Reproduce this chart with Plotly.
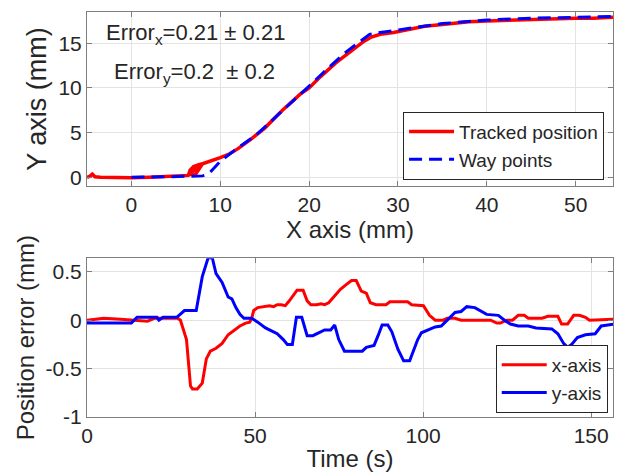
import plotly.graph_objects as go

# ---- Top panel: trajectory ----
tracked_x = [-5, -4.7, -4.4, -4.1, -3.5, -2, 0, 2, 4, 5.5, 6.4, 6.6, 7.0, 7.6, 8.0, 7.4, 6.8, 6.6, 7.2,
             8.0, 9.0, 10.0, 11.0, 12.0, 13.5, 15, 17, 19, 20, 21, 23, 25, 26, 27, 28, 29.5, 31, 33, 35,
             38, 40, 43, 46, 50, 52, 54.2]
tracked_y = [0.0, 0.1, 0.35, 0.05, 0.0, -0.05, -0.05, 0.0, 0.05, 0.1, 0.2, 0.8, 1.2, 1.4, 1.5, 1.0, 0.6,
             0.3, 0.3, 1.5, 1.8, 2.2, 2.6, 3.2, 4.3, 5.5, 7.5, 9.3, 10.0, 11.0, 12.8, 14.4, 15.1, 15.7,
             16.0, 16.2, 16.5, 16.9, 17.1, 17.4, 17.5, 17.6, 17.7, 17.8, 17.8, 17.9]

way_x = [0, 2, 4, 6, 8, 8.5, 9, 10, 11, 12, 14, 16, 18, 20, 22, 24, 26, 26.8, 28, 30, 32, 35, 40, 45,
         50, 54.2]
way_y = [0, 0, 0.05, 0.1, 0.15, 0.3, 0.7, 1.8, 2.6, 3.3, 4.7, 6.5, 8.4, 10.2, 12.1, 13.9, 15.4, 16.0,
         16.2, 16.5, 16.8, 17.2, 17.6, 17.8, 17.9, 18.0]

# ---- Bottom panel: position error over time ----
ex_t = [0, 5, 10, 13, 18, 20, 27, 27.8, 29.6, 30.8, 31.4, 32.8, 34.3, 35.5, 36.7, 38.4, 40.2, 42, 43.7,
        45.5, 47.2, 48.4, 49, 49.6, 50.8, 52.5, 54.3, 55.5, 56.6, 57.8, 59, 60.2, 61.3, 62.5, 64.3, 65.5,
        66.6, 68.4, 69.6, 70.7, 71.9, 73.7, 75.4, 77.2, 78.7, 80.1, 81.6, 83.1, 84.3, 86, 89, 90.1, 95.4,
        96.6, 100.1, 101.9, 103.6, 106, 107.2, 109.5, 111.3, 120.1, 121.9, 123, 124.8, 126.6, 128.3,
        130.1, 131.3, 135.4, 137.1, 140.1, 141.2, 143, 144.8, 146.5, 148.3, 149.5, 157]
ex_v = [0, 0.02, 0.01, 0, -0.01, 0.02, 0.02, 0, -0.2, -0.68, -0.71, -0.71, -0.65, -0.4, -0.32, -0.29,
        -0.24, -0.15, -0.11, -0.06, -0.03, -0.02, 0.02, 0.1, 0.13, 0.14, 0.15, 0.14, 0.16, 0.16, 0.15,
        0.2, 0.25, 0.31, 0.31, 0.2, 0.16, 0.16, 0.17, 0.16, 0.18, 0.25, 0.32, 0.37, 0.41, 0.41, 0.3,
        0.28, 0.18, 0.16, 0.16, 0.19, 0.19, 0.16, 0.15, 0.05, 0, 0, 0.02, 0.02, 0, 0, -0.03, -0.03, 0,
        0, 0.05, 0.05, 0.02, 0.02, 0.04, 0.04, -0.04, -0.04, 0.05, 0.05, 0.03, 0, 0.01]

ey_t = [0, 10.8, 13.2, 14.9, 19, 20.8, 21.4, 22.6, 26.7, 29, 32.5, 34.3, 36.1, 37.3, 38.4, 40.2, 42,
        43.1, 44.3, 45.5, 46.7, 49, 50.8, 53.1, 55.5, 56.6, 58.4, 59.6, 61.1, 62.3, 63.9, 65.5, 67.2,
        69.6, 70.7, 72.5, 73.7, 74.9, 76.6, 78.4, 81.9, 83.1, 85.4, 86.6, 87.8, 89.5, 90.7, 92.5, 94.2,
        96, 98.4, 99.5, 101.3, 103.6, 105.4, 107.8, 109.5, 111.3, 113, 115.4, 117.2, 118.9, 122.4,
        124.2, 126, 128.3, 131.3, 133.6, 138.3, 140.1, 141.8, 143, 144.2, 145.9, 148.3, 151.2, 153,
        154.8, 157]
ey_v = [-0.03, -0.03, -0.03, 0.03, 0.03, 0.03, 0, 0.03, 0.03, 0.1, 0.1, 0.45, 0.65, 0.64, 0.48, 0.39,
        0.24, 0.22, 0.13, 0.06, 0.02, 0.02, -0.02, -0.08, -0.12, -0.14, -0.2, -0.25, -0.25, 0.03, 0.03,
        -0.16, -0.16, -0.12, -0.1, -0.1, -0.05, -0.2, -0.32, -0.32, -0.32, -0.28, -0.26, -0.16, -0.05,
        -0.05, -0.12, -0.3, -0.42, -0.42, -0.2, -0.13, -0.1, -0.07, -0.06, 0.02, 0.08, 0.09, 0.14, 0.13,
        0.09, 0.06, 0.05, 0, -0.04, -0.06, -0.06, -0.08, -0.09, -0.14, -0.24, -0.28, -0.25, -0.18,
        -0.15, -0.14, -0.06, -0.05, -0.04]

RED = "#ff0000"
BLUE = "#0000ff"
FONT = "Liberation Sans, Arial, sans-serif"
TXT = "#262626"

fig = go.Figure()
fig.add_trace(go.Scatter(x=tracked_x, y=tracked_y, mode="lines", name="Tracked position",
                         line=dict(color=RED, width=3.5), xaxis="x", yaxis="y", legend="legend"))
fig.add_trace(go.Scatter(x=way_x, y=way_y, mode="lines", name="Way points",
                         line=dict(color=BLUE, width=3, dash="13px,7px"), xaxis="x", yaxis="y",
                         legend="legend"))
fig.add_trace(go.Scatter(x=ex_t, y=ex_v, mode="lines", name="x-axis",
                         line=dict(color=RED, width=3), xaxis="x2", yaxis="y2", legend="legend2"))
fig.add_trace(go.Scatter(x=ey_t, y=ey_v, mode="lines", name="y-axis",
                         line=dict(color=BLUE, width=3), xaxis="x2", yaxis="y2", legend="legend2"))

axis_common = dict(showline=True, linecolor="#7f7f7f", linewidth=1, mirror="ticks",
                   ticks="inside", ticklen=5, tickcolor="#7f7f7f", showgrid=True,
                   gridcolor="#e3e3e3", gridwidth=1, zeroline=False, automargin=False,
                   tickfont=dict(size=21, color=TXT, family=FONT))

# The page body adds an 8px offset, so the figure is sized 614x466 to fit the 622x474 window.
fig.update_layout(
    width=614, height=466,
    margin=dict(l=79, r=9, t=4, b=57),
    paper_bgcolor="white", plot_bgcolor="white",
    font=dict(family=FONT, color=TXT),
    xaxis=dict(domain=[0, 1], range=[-5, 54.2], tickvals=[0, 10, 20, 30, 40, 50], anchor="y",
               title=dict(text="X axis (mm)", font=dict(size=24), standoff=2), **axis_common),
    yaxis=dict(domain=[0.570, 1], range=[-1, 18.5], tickvals=[0, 5, 10, 15], anchor="x",
               title=dict(text="Y axis (mm)", font=dict(size=27), standoff=3), **axis_common),
    xaxis2=dict(domain=[0, 1], range=[0, 156.5], tickvals=[0, 50, 100, 150], anchor="y2",
                title=dict(text="Time (s)", font=dict(size=24), standoff=3), **axis_common),
    yaxis2=dict(domain=[0, 0.392], range=[-1, 0.64], tickvals=[-1, -0.5, 0, 0.5],
                ticktext=["-1", "-0.5", "0", "0.5"], anchor="x2",
                title=dict(text="Position error (mm)", font=dict(size=24), standoff=4),
                **axis_common),
    legend=dict(x=0.983, y=0.586, xanchor="right", yanchor="bottom", bgcolor="white",
                bordercolor="#262626", borderwidth=1, font=dict(size=19, color=TXT),
                tracegroupgap=0, itemwidth=45),
    legend2=dict(x=0.990, y=0.010, xanchor="right", yanchor="bottom", bgcolor="white",
                 bordercolor="#262626", borderwidth=1, font=dict(size=19, color=TXT),
                 tracegroupgap=0, itemwidth=45),
    showlegend=True,
    annotations=[
        dict(text="Error<sub>x</sub>=0.21 \u00b1 0.21", x=0.207, y=0.945, xref="paper", yref="paper",
             xanchor="center", yanchor="middle", showarrow=False,
             font=dict(size=22, color=TXT, family=FONT)),
        dict(text="Error<sub>y</sub>=0.2  \u00b1 0.2", x=0.205, y=0.85, xref="paper", yref="paper",
             xanchor="center", yanchor="middle", showarrow=False,
             font=dict(size=22, color=TXT, family=FONT)),
    ],
)

fig.write_html("out.html")
